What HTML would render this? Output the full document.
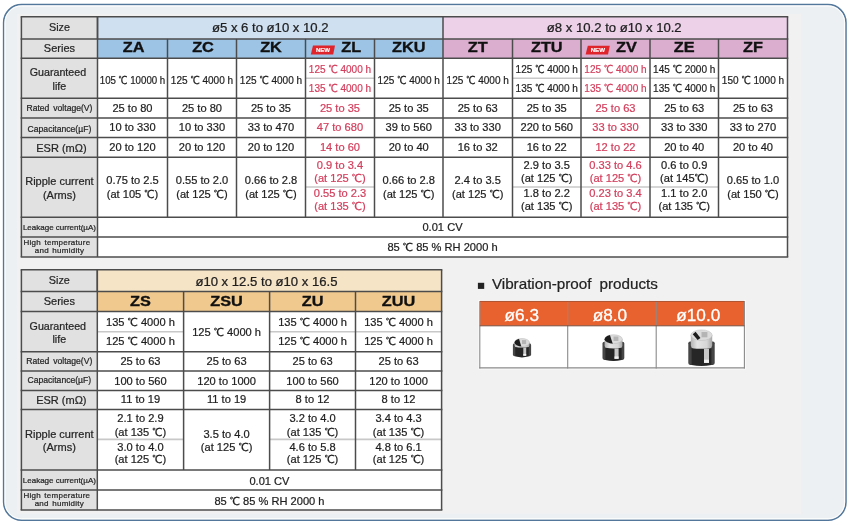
<!DOCTYPE html>
<html><head><meta charset="utf-8"><title>Capacitor series table</title>
<style>
html,body{margin:0;padding:0;background:#fff;width:850px;height:525px;overflow:hidden}
svg{display:block}
text{font-family:"Liberation Sans", "WenQuanYi Zen Hei", sans-serif}
</style></head><body>
<svg width="850" height="525" viewBox="0 0 850 525">
<rect x="0" y="0" width="850" height="525" fill="#ffffff"/>
<rect x="3.6" y="4.6" width="842.4" height="515.6" rx="18" ry="18" fill="#edf0f2" stroke="#52779b" stroke-width="1.5"/>
<rect x="5" y="6" width="839.6" height="512.8" rx="16.6" ry="16.6" fill="none" stroke="#ffffff" stroke-width="1"/>
<rect x="17.00" y="14.00" width="784.00" height="499.50" fill="#f1f1f1"/>
<rect x="21.40" y="16.80" width="766.10" height="240.10" fill="#ffffff"/>
<rect x="21.40" y="16.80" width="76.10" height="240.10" fill="#e1e1e1"/>
<rect x="97.50" y="16.80" width="345.50" height="22.10" fill="#cfe0f1"/>
<rect x="443.00" y="16.80" width="344.50" height="22.10" fill="#ecd1e9"/>
<rect x="97.50" y="38.90" width="70.00" height="19.40" fill="#9dc3e5"/>
<rect x="167.50" y="38.90" width="69.00" height="19.40" fill="#9dc3e5"/>
<rect x="236.50" y="38.90" width="69.00" height="19.40" fill="#9dc3e5"/>
<rect x="305.50" y="38.90" width="69.00" height="19.40" fill="#9dc3e5"/>
<rect x="374.50" y="38.90" width="68.50" height="19.40" fill="#9dc3e5"/>
<rect x="443.00" y="38.90" width="69.50" height="19.40" fill="#dbaed0"/>
<rect x="512.50" y="38.90" width="68.50" height="19.40" fill="#dbaed0"/>
<rect x="581.00" y="38.90" width="69.00" height="19.40" fill="#dbaed0"/>
<rect x="650.00" y="38.90" width="68.50" height="19.40" fill="#dbaed0"/>
<rect x="718.50" y="38.90" width="69.00" height="19.40" fill="#dbaed0"/>
<line x1="305.50" y1="78.30" x2="374.50" y2="78.30" stroke="#c8c8c8" stroke-width="1.6"/>
<line x1="512.50" y1="78.30" x2="718.50" y2="78.30" stroke="#c8c8c8" stroke-width="1.6"/>
<line x1="305.50" y1="187.00" x2="374.50" y2="187.00" stroke="#c8c8c8" stroke-width="1.6"/>
<line x1="512.50" y1="187.00" x2="718.50" y2="187.00" stroke="#c8c8c8" stroke-width="1.6"/>
<line x1="20.65" y1="16.80" x2="788.25" y2="16.80" stroke="#4c4c4c" stroke-width="1.5"/>
<line x1="20.65" y1="38.90" x2="788.25" y2="38.90" stroke="#4c4c4c" stroke-width="1.5"/>
<line x1="20.65" y1="58.30" x2="788.25" y2="58.30" stroke="#4c4c4c" stroke-width="1.5"/>
<line x1="20.65" y1="98.30" x2="788.25" y2="98.30" stroke="#4c4c4c" stroke-width="1.5"/>
<line x1="20.65" y1="118.10" x2="788.25" y2="118.10" stroke="#4c4c4c" stroke-width="1.5"/>
<line x1="20.65" y1="137.40" x2="788.25" y2="137.40" stroke="#4c4c4c" stroke-width="1.5"/>
<line x1="20.65" y1="157.20" x2="788.25" y2="157.20" stroke="#4c4c4c" stroke-width="1.5"/>
<line x1="20.65" y1="217.20" x2="788.25" y2="217.20" stroke="#4c4c4c" stroke-width="1.5"/>
<line x1="20.65" y1="236.90" x2="788.25" y2="236.90" stroke="#4c4c4c" stroke-width="1.5"/>
<line x1="20.65" y1="256.90" x2="788.25" y2="256.90" stroke="#4c4c4c" stroke-width="1.5"/>
<line x1="21.40" y1="16.80" x2="21.40" y2="256.90" stroke="#4c4c4c" stroke-width="1.5"/>
<line x1="787.50" y1="16.80" x2="787.50" y2="256.90" stroke="#4c4c4c" stroke-width="1.5"/>
<line x1="97.50" y1="16.80" x2="97.50" y2="256.90" stroke="#4c4c4c" stroke-width="1.5"/>
<line x1="97.50" y1="16.80" x2="97.50" y2="38.90" stroke="#4c4c4c" stroke-width="1.5"/>
<line x1="443.00" y1="16.80" x2="443.00" y2="38.90" stroke="#4c4c4c" stroke-width="1.5"/>
<line x1="167.50" y1="38.90" x2="167.50" y2="217.20" stroke="#4c4c4c" stroke-width="1.5"/>
<line x1="236.50" y1="38.90" x2="236.50" y2="217.20" stroke="#4c4c4c" stroke-width="1.5"/>
<line x1="305.50" y1="38.90" x2="305.50" y2="217.20" stroke="#4c4c4c" stroke-width="1.5"/>
<line x1="374.50" y1="38.90" x2="374.50" y2="217.20" stroke="#4c4c4c" stroke-width="1.5"/>
<line x1="443.00" y1="38.90" x2="443.00" y2="217.20" stroke="#4c4c4c" stroke-width="1.5"/>
<line x1="512.50" y1="38.90" x2="512.50" y2="217.20" stroke="#4c4c4c" stroke-width="1.5"/>
<line x1="581.00" y1="38.90" x2="581.00" y2="217.20" stroke="#4c4c4c" stroke-width="1.5"/>
<line x1="650.00" y1="38.90" x2="650.00" y2="217.20" stroke="#4c4c4c" stroke-width="1.5"/>
<line x1="718.50" y1="38.90" x2="718.50" y2="217.20" stroke="#4c4c4c" stroke-width="1.5"/>
<rect x="21.40" y="269.80" width="420.20" height="240.30" fill="#ffffff"/>
<rect x="21.40" y="269.80" width="75.90" height="240.30" fill="#e1e1e1"/>
<rect x="97.30" y="269.80" width="344.30" height="21.80" fill="#f6e4c6"/>
<rect x="97.30" y="291.60" width="86.30" height="19.90" fill="#f0c98f"/>
<rect x="183.60" y="291.60" width="86.00" height="19.90" fill="#f0c98f"/>
<rect x="269.60" y="291.60" width="85.90" height="19.90" fill="#f0c98f"/>
<rect x="355.50" y="291.60" width="86.10" height="19.90" fill="#f0c98f"/>
<line x1="97.30" y1="331.80" x2="183.60" y2="331.80" stroke="#c8c8c8" stroke-width="1.6"/>
<line x1="269.60" y1="331.80" x2="441.60" y2="331.80" stroke="#c8c8c8" stroke-width="1.6"/>
<line x1="97.30" y1="439.40" x2="183.60" y2="439.40" stroke="#c8c8c8" stroke-width="1.6"/>
<line x1="269.60" y1="439.40" x2="441.60" y2="439.40" stroke="#c8c8c8" stroke-width="1.6"/>
<line x1="20.65" y1="269.80" x2="442.35" y2="269.80" stroke="#4c4c4c" stroke-width="1.5"/>
<line x1="20.65" y1="291.60" x2="442.35" y2="291.60" stroke="#4c4c4c" stroke-width="1.5"/>
<line x1="20.65" y1="311.50" x2="442.35" y2="311.50" stroke="#4c4c4c" stroke-width="1.5"/>
<line x1="20.65" y1="351.70" x2="442.35" y2="351.70" stroke="#4c4c4c" stroke-width="1.5"/>
<line x1="20.65" y1="371.00" x2="442.35" y2="371.00" stroke="#4c4c4c" stroke-width="1.5"/>
<line x1="20.65" y1="390.40" x2="442.35" y2="390.40" stroke="#4c4c4c" stroke-width="1.5"/>
<line x1="20.65" y1="409.60" x2="442.35" y2="409.60" stroke="#4c4c4c" stroke-width="1.5"/>
<line x1="20.65" y1="470.00" x2="442.35" y2="470.00" stroke="#4c4c4c" stroke-width="1.5"/>
<line x1="20.65" y1="490.00" x2="442.35" y2="490.00" stroke="#4c4c4c" stroke-width="1.5"/>
<line x1="20.65" y1="510.10" x2="442.35" y2="510.10" stroke="#4c4c4c" stroke-width="1.5"/>
<line x1="21.40" y1="269.80" x2="21.40" y2="510.10" stroke="#4c4c4c" stroke-width="1.5"/>
<line x1="441.60" y1="269.80" x2="441.60" y2="510.10" stroke="#4c4c4c" stroke-width="1.5"/>
<line x1="97.30" y1="269.80" x2="97.30" y2="510.10" stroke="#4c4c4c" stroke-width="1.5"/>
<line x1="97.30" y1="269.80" x2="97.30" y2="291.60" stroke="#4c4c4c" stroke-width="1.5"/>
<line x1="183.60" y1="291.60" x2="183.60" y2="470.00" stroke="#4c4c4c" stroke-width="1.5"/>
<line x1="269.60" y1="291.60" x2="269.60" y2="470.00" stroke="#4c4c4c" stroke-width="1.5"/>
<line x1="355.50" y1="291.60" x2="355.50" y2="470.00" stroke="#4c4c4c" stroke-width="1.5"/>
<text transform="translate(132.50 83.90) scale(0.875 1)" font-size="11.1" fill="#1e1e1e" text-anchor="middle" stroke="#1e1e1e" stroke-width="0.22">105 ℃ 10000 h</text>
<text transform="translate(202.00 83.90) scale(0.905 1)" font-size="11.1" fill="#1e1e1e" text-anchor="middle" stroke="#1e1e1e" stroke-width="0.22">125 ℃ 4000 h</text>
<text transform="translate(271.00 83.90) scale(0.905 1)" font-size="11.1" fill="#1e1e1e" text-anchor="middle" stroke="#1e1e1e" stroke-width="0.22">125 ℃ 4000 h</text>
<text transform="translate(340.00 72.50) scale(0.905 1)" font-size="11.1" fill="#d3405e" text-anchor="middle" stroke="#d3405e" stroke-width="0.22">125 ℃ 4000 h</text>
<text transform="translate(340.00 92.00) scale(0.905 1)" font-size="11.1" fill="#d3405e" text-anchor="middle" stroke="#d3405e" stroke-width="0.22">135 ℃ 4000 h</text>
<text transform="translate(408.75 83.90) scale(0.905 1)" font-size="11.1" fill="#1e1e1e" text-anchor="middle" stroke="#1e1e1e" stroke-width="0.22">125 ℃ 4000 h</text>
<text transform="translate(477.75 83.90) scale(0.905 1)" font-size="11.1" fill="#1e1e1e" text-anchor="middle" stroke="#1e1e1e" stroke-width="0.22">125 ℃ 4000 h</text>
<text transform="translate(546.75 72.50) scale(0.905 1)" font-size="11.1" fill="#1e1e1e" text-anchor="middle" stroke="#1e1e1e" stroke-width="0.22">125 ℃ 4000 h</text>
<text transform="translate(546.75 92.00) scale(0.905 1)" font-size="11.1" fill="#1e1e1e" text-anchor="middle" stroke="#1e1e1e" stroke-width="0.22">135 ℃ 4000 h</text>
<text transform="translate(615.50 72.50) scale(0.905 1)" font-size="11.1" fill="#d3405e" text-anchor="middle" stroke="#d3405e" stroke-width="0.22">125 ℃ 4000 h</text>
<text transform="translate(615.50 92.00) scale(0.905 1)" font-size="11.1" fill="#d3405e" text-anchor="middle" stroke="#d3405e" stroke-width="0.22">135 ℃ 4000 h</text>
<text transform="translate(684.25 72.50) scale(0.905 1)" font-size="11.1" fill="#1e1e1e" text-anchor="middle" stroke="#1e1e1e" stroke-width="0.22">145 ℃ 2000 h</text>
<text transform="translate(684.25 92.00) scale(0.905 1)" font-size="11.1" fill="#1e1e1e" text-anchor="middle" stroke="#1e1e1e" stroke-width="0.22">135 ℃ 4000 h</text>
<text transform="translate(753.00 83.90) scale(0.905 1)" font-size="11.1" fill="#1e1e1e" text-anchor="middle" stroke="#1e1e1e" stroke-width="0.22">150 ℃ 1000 h</text>
<text x="132.50" y="111.70" font-size="11.1" fill="#1e1e1e" text-anchor="middle" stroke="#1e1e1e" stroke-width="0.22">25 to 80</text>
<text x="202.00" y="111.70" font-size="11.1" fill="#1e1e1e" text-anchor="middle" stroke="#1e1e1e" stroke-width="0.22">25 to 80</text>
<text x="271.00" y="111.70" font-size="11.1" fill="#1e1e1e" text-anchor="middle" stroke="#1e1e1e" stroke-width="0.22">25 to 35</text>
<text x="340.00" y="111.70" font-size="11.1" fill="#d3405e" text-anchor="middle" stroke="#d3405e" stroke-width="0.22">25 to 35</text>
<text x="408.75" y="111.70" font-size="11.1" fill="#1e1e1e" text-anchor="middle" stroke="#1e1e1e" stroke-width="0.22">25 to 35</text>
<text x="477.75" y="111.70" font-size="11.1" fill="#1e1e1e" text-anchor="middle" stroke="#1e1e1e" stroke-width="0.22">25 to 63</text>
<text x="546.75" y="111.70" font-size="11.1" fill="#1e1e1e" text-anchor="middle" stroke="#1e1e1e" stroke-width="0.22">25 to 35</text>
<text x="615.50" y="111.70" font-size="11.1" fill="#d3405e" text-anchor="middle" stroke="#d3405e" stroke-width="0.22">25 to 63</text>
<text x="684.25" y="111.70" font-size="11.1" fill="#1e1e1e" text-anchor="middle" stroke="#1e1e1e" stroke-width="0.22">25 to 63</text>
<text x="753.00" y="111.70" font-size="11.1" fill="#1e1e1e" text-anchor="middle" stroke="#1e1e1e" stroke-width="0.22">25 to 63</text>
<text x="132.50" y="131.30" font-size="11.1" fill="#1e1e1e" text-anchor="middle" stroke="#1e1e1e" stroke-width="0.22">10 to 330</text>
<text x="202.00" y="131.30" font-size="11.1" fill="#1e1e1e" text-anchor="middle" stroke="#1e1e1e" stroke-width="0.22">10 to 330</text>
<text x="271.00" y="131.30" font-size="11.1" fill="#1e1e1e" text-anchor="middle" stroke="#1e1e1e" stroke-width="0.22">33 to 470</text>
<text x="340.00" y="131.30" font-size="11.1" fill="#d3405e" text-anchor="middle" stroke="#d3405e" stroke-width="0.22">47 to 680</text>
<text x="408.75" y="131.30" font-size="11.1" fill="#1e1e1e" text-anchor="middle" stroke="#1e1e1e" stroke-width="0.22">39 to 560</text>
<text x="477.75" y="131.30" font-size="11.1" fill="#1e1e1e" text-anchor="middle" stroke="#1e1e1e" stroke-width="0.22">33 to 330</text>
<text x="546.75" y="131.30" font-size="11.1" fill="#1e1e1e" text-anchor="middle" stroke="#1e1e1e" stroke-width="0.22">220 to 560</text>
<text x="615.50" y="131.30" font-size="11.1" fill="#d3405e" text-anchor="middle" stroke="#d3405e" stroke-width="0.22">33 to 330</text>
<text x="684.25" y="131.30" font-size="11.1" fill="#1e1e1e" text-anchor="middle" stroke="#1e1e1e" stroke-width="0.22">33 to 330</text>
<text x="753.00" y="131.30" font-size="11.1" fill="#1e1e1e" text-anchor="middle" stroke="#1e1e1e" stroke-width="0.22">33 to 270</text>
<text x="132.50" y="150.60" font-size="11.1" fill="#1e1e1e" text-anchor="middle" stroke="#1e1e1e" stroke-width="0.22">20 to 120</text>
<text x="202.00" y="150.60" font-size="11.1" fill="#1e1e1e" text-anchor="middle" stroke="#1e1e1e" stroke-width="0.22">20 to 120</text>
<text x="271.00" y="150.60" font-size="11.1" fill="#1e1e1e" text-anchor="middle" stroke="#1e1e1e" stroke-width="0.22">20 to 120</text>
<text x="340.00" y="150.60" font-size="11.1" fill="#d3405e" text-anchor="middle" stroke="#d3405e" stroke-width="0.22">14 to 60</text>
<text x="408.75" y="150.60" font-size="11.1" fill="#1e1e1e" text-anchor="middle" stroke="#1e1e1e" stroke-width="0.22">20 to 40</text>
<text x="477.75" y="150.60" font-size="11.1" fill="#1e1e1e" text-anchor="middle" stroke="#1e1e1e" stroke-width="0.22">16 to 32</text>
<text x="546.75" y="150.60" font-size="11.1" fill="#1e1e1e" text-anchor="middle" stroke="#1e1e1e" stroke-width="0.22">16 to 22</text>
<text x="615.50" y="150.60" font-size="11.1" fill="#d3405e" text-anchor="middle" stroke="#d3405e" stroke-width="0.22">12 to 22</text>
<text x="684.25" y="150.60" font-size="11.1" fill="#1e1e1e" text-anchor="middle" stroke="#1e1e1e" stroke-width="0.22">20 to 40</text>
<text x="753.00" y="150.60" font-size="11.1" fill="#1e1e1e" text-anchor="middle" stroke="#1e1e1e" stroke-width="0.22">20 to 40</text>
<text x="132.50" y="184.10" font-size="11.1" fill="#1e1e1e" text-anchor="middle" stroke="#1e1e1e" stroke-width="0.22">0.75 to 2.5</text>
<text x="132.50" y="198.00" font-size="11.1" fill="#1e1e1e" text-anchor="middle" stroke="#1e1e1e" stroke-width="0.22">(at 105 ℃)</text>
<text x="202.00" y="184.10" font-size="11.1" fill="#1e1e1e" text-anchor="middle" stroke="#1e1e1e" stroke-width="0.22">0.55 to 2.0</text>
<text x="202.00" y="198.00" font-size="11.1" fill="#1e1e1e" text-anchor="middle" stroke="#1e1e1e" stroke-width="0.22">(at 125 ℃)</text>
<text x="271.00" y="184.10" font-size="11.1" fill="#1e1e1e" text-anchor="middle" stroke="#1e1e1e" stroke-width="0.22">0.66 to 2.8</text>
<text x="271.00" y="198.00" font-size="11.1" fill="#1e1e1e" text-anchor="middle" stroke="#1e1e1e" stroke-width="0.22">(at 125 ℃)</text>
<text x="340.00" y="169.10" font-size="11.1" fill="#d3405e" text-anchor="middle" stroke="#d3405e" stroke-width="0.22">0.9 to 3.4</text>
<text x="340.00" y="181.80" font-size="11.1" fill="#d3405e" text-anchor="middle" stroke="#d3405e" stroke-width="0.22">(at 125 ℃)</text>
<text x="340.00" y="197.30" font-size="11.1" fill="#d3405e" text-anchor="middle" stroke="#d3405e" stroke-width="0.22">0.55 to 2.3</text>
<text x="340.00" y="210.00" font-size="11.1" fill="#d3405e" text-anchor="middle" stroke="#d3405e" stroke-width="0.22">(at 135 ℃)</text>
<text x="408.75" y="184.10" font-size="11.1" fill="#1e1e1e" text-anchor="middle" stroke="#1e1e1e" stroke-width="0.22">0.66 to 2.8</text>
<text x="408.75" y="198.00" font-size="11.1" fill="#1e1e1e" text-anchor="middle" stroke="#1e1e1e" stroke-width="0.22">(at 125 ℃)</text>
<text x="477.75" y="184.10" font-size="11.1" fill="#1e1e1e" text-anchor="middle" stroke="#1e1e1e" stroke-width="0.22">2.4 to 3.5</text>
<text x="477.75" y="198.00" font-size="11.1" fill="#1e1e1e" text-anchor="middle" stroke="#1e1e1e" stroke-width="0.22">(at 125 ℃)</text>
<text x="546.75" y="169.10" font-size="11.1" fill="#1e1e1e" text-anchor="middle" stroke="#1e1e1e" stroke-width="0.22">2.9 to 3.5</text>
<text x="546.75" y="181.80" font-size="11.1" fill="#1e1e1e" text-anchor="middle" stroke="#1e1e1e" stroke-width="0.22">(at 125 ℃)</text>
<text x="546.75" y="197.30" font-size="11.1" fill="#1e1e1e" text-anchor="middle" stroke="#1e1e1e" stroke-width="0.22">1.8 to 2.2</text>
<text x="546.75" y="210.00" font-size="11.1" fill="#1e1e1e" text-anchor="middle" stroke="#1e1e1e" stroke-width="0.22">(at 135 ℃)</text>
<text x="615.50" y="169.10" font-size="11.1" fill="#d3405e" text-anchor="middle" stroke="#d3405e" stroke-width="0.22">0.33 to 4.6</text>
<text x="615.50" y="181.80" font-size="11.1" fill="#d3405e" text-anchor="middle" stroke="#d3405e" stroke-width="0.22">(at 125 ℃)</text>
<text x="615.50" y="197.30" font-size="11.1" fill="#d3405e" text-anchor="middle" stroke="#d3405e" stroke-width="0.22">0.23 to 3.4</text>
<text x="615.50" y="210.00" font-size="11.1" fill="#d3405e" text-anchor="middle" stroke="#d3405e" stroke-width="0.22">(at 135 ℃)</text>
<text x="684.25" y="169.10" font-size="11.1" fill="#1e1e1e" text-anchor="middle" stroke="#1e1e1e" stroke-width="0.22">0.6 to 0.9</text>
<text x="684.25" y="181.80" font-size="11.1" fill="#1e1e1e" text-anchor="middle" stroke="#1e1e1e" stroke-width="0.22">(at 145℃)</text>
<text x="684.25" y="197.30" font-size="11.1" fill="#1e1e1e" text-anchor="middle" stroke="#1e1e1e" stroke-width="0.22">1.1 to 2.0</text>
<text x="684.25" y="210.00" font-size="11.1" fill="#1e1e1e" text-anchor="middle" stroke="#1e1e1e" stroke-width="0.22">(at 135 ℃)</text>
<text x="753.00" y="184.10" font-size="11.1" fill="#1e1e1e" text-anchor="middle" stroke="#1e1e1e" stroke-width="0.22">0.65 to 1.0</text>
<text x="753.00" y="198.00" font-size="11.1" fill="#1e1e1e" text-anchor="middle" stroke="#1e1e1e" stroke-width="0.22">(at 150 ℃)</text>
<text x="442.50" y="230.70" font-size="11.1" fill="#1e1e1e" text-anchor="middle" stroke="#1e1e1e" stroke-width="0.22">0.01 CV</text>
<text x="442.50" y="250.90" font-size="11.1" fill="#1e1e1e" text-anchor="middle" stroke="#1e1e1e" stroke-width="0.22">85 ℃ 85 % RH 2000 h</text>
<text x="140.45" y="325.70" font-size="11.1" fill="#1e1e1e" text-anchor="middle" stroke="#1e1e1e" stroke-width="0.22">135 ℃ 4000 h</text>
<text x="140.45" y="345.20" font-size="11.1" fill="#1e1e1e" text-anchor="middle" stroke="#1e1e1e" stroke-width="0.22">125 ℃ 4000 h</text>
<text x="226.60" y="335.80" font-size="11.1" fill="#1e1e1e" text-anchor="middle" stroke="#1e1e1e" stroke-width="0.22">125 ℃ 4000 h</text>
<text x="312.55" y="325.70" font-size="11.1" fill="#1e1e1e" text-anchor="middle" stroke="#1e1e1e" stroke-width="0.22">135 ℃ 4000 h</text>
<text x="312.55" y="345.20" font-size="11.1" fill="#1e1e1e" text-anchor="middle" stroke="#1e1e1e" stroke-width="0.22">125 ℃ 4000 h</text>
<text x="398.55" y="325.70" font-size="11.1" fill="#1e1e1e" text-anchor="middle" stroke="#1e1e1e" stroke-width="0.22">135 ℃ 4000 h</text>
<text x="398.55" y="345.20" font-size="11.1" fill="#1e1e1e" text-anchor="middle" stroke="#1e1e1e" stroke-width="0.22">125 ℃ 4000 h</text>
<text x="140.45" y="365.00" font-size="11.1" fill="#1e1e1e" text-anchor="middle" stroke="#1e1e1e" stroke-width="0.22">25 to 63</text>
<text x="226.60" y="365.00" font-size="11.1" fill="#1e1e1e" text-anchor="middle" stroke="#1e1e1e" stroke-width="0.22">25 to 63</text>
<text x="312.55" y="365.00" font-size="11.1" fill="#1e1e1e" text-anchor="middle" stroke="#1e1e1e" stroke-width="0.22">25 to 63</text>
<text x="398.55" y="365.00" font-size="11.1" fill="#1e1e1e" text-anchor="middle" stroke="#1e1e1e" stroke-width="0.22">25 to 63</text>
<text x="140.45" y="384.50" font-size="11.1" fill="#1e1e1e" text-anchor="middle" stroke="#1e1e1e" stroke-width="0.22">100 to 560</text>
<text x="226.60" y="384.50" font-size="11.1" fill="#1e1e1e" text-anchor="middle" stroke="#1e1e1e" stroke-width="0.22">120 to 1000</text>
<text x="312.55" y="384.50" font-size="11.1" fill="#1e1e1e" text-anchor="middle" stroke="#1e1e1e" stroke-width="0.22">100 to 560</text>
<text x="398.55" y="384.50" font-size="11.1" fill="#1e1e1e" text-anchor="middle" stroke="#1e1e1e" stroke-width="0.22">120 to 1000</text>
<text x="140.45" y="403.00" font-size="11.1" fill="#1e1e1e" text-anchor="middle" stroke="#1e1e1e" stroke-width="0.22">11 to 19</text>
<text x="226.60" y="403.00" font-size="11.1" fill="#1e1e1e" text-anchor="middle" stroke="#1e1e1e" stroke-width="0.22">11 to 19</text>
<text x="312.55" y="403.00" font-size="11.1" fill="#1e1e1e" text-anchor="middle" stroke="#1e1e1e" stroke-width="0.22">8 to 12</text>
<text x="398.55" y="403.00" font-size="11.1" fill="#1e1e1e" text-anchor="middle" stroke="#1e1e1e" stroke-width="0.22">8 to 12</text>
<text x="140.45" y="422.00" font-size="11.1" fill="#1e1e1e" text-anchor="middle" stroke="#1e1e1e" stroke-width="0.22">2.1 to 2.9</text>
<text x="140.45" y="435.70" font-size="11.1" fill="#1e1e1e" text-anchor="middle" stroke="#1e1e1e" stroke-width="0.22">(at 135 ℃)</text>
<text x="140.45" y="450.60" font-size="11.1" fill="#1e1e1e" text-anchor="middle" stroke="#1e1e1e" stroke-width="0.22">3.0 to 4.0</text>
<text x="140.45" y="463.30" font-size="11.1" fill="#1e1e1e" text-anchor="middle" stroke="#1e1e1e" stroke-width="0.22">(at 125 ℃)</text>
<text x="226.60" y="437.80" font-size="11.1" fill="#1e1e1e" text-anchor="middle" stroke="#1e1e1e" stroke-width="0.22">3.5 to 4.0</text>
<text x="226.60" y="451.20" font-size="11.1" fill="#1e1e1e" text-anchor="middle" stroke="#1e1e1e" stroke-width="0.22">(at 125 ℃)</text>
<text x="312.55" y="422.00" font-size="11.1" fill="#1e1e1e" text-anchor="middle" stroke="#1e1e1e" stroke-width="0.22">3.2 to 4.0</text>
<text x="312.55" y="435.70" font-size="11.1" fill="#1e1e1e" text-anchor="middle" stroke="#1e1e1e" stroke-width="0.22">(at 135 ℃)</text>
<text x="312.55" y="450.60" font-size="11.1" fill="#1e1e1e" text-anchor="middle" stroke="#1e1e1e" stroke-width="0.22">4.6 to 5.8</text>
<text x="312.55" y="463.30" font-size="11.1" fill="#1e1e1e" text-anchor="middle" stroke="#1e1e1e" stroke-width="0.22">(at 125 ℃)</text>
<text x="398.55" y="422.00" font-size="11.1" fill="#1e1e1e" text-anchor="middle" stroke="#1e1e1e" stroke-width="0.22">3.4 to 4.3</text>
<text x="398.55" y="435.70" font-size="11.1" fill="#1e1e1e" text-anchor="middle" stroke="#1e1e1e" stroke-width="0.22">(at 135 ℃)</text>
<text x="398.55" y="450.60" font-size="11.1" fill="#1e1e1e" text-anchor="middle" stroke="#1e1e1e" stroke-width="0.22">4.8 to 6.1</text>
<text x="398.55" y="463.30" font-size="11.1" fill="#1e1e1e" text-anchor="middle" stroke="#1e1e1e" stroke-width="0.22">(at 125 ℃)</text>
<text x="269.45" y="484.80" font-size="11.1" fill="#1e1e1e" text-anchor="middle" stroke="#1e1e1e" stroke-width="0.22">0.01 CV</text>
<text x="269.45" y="504.60" font-size="11.1" fill="#1e1e1e" text-anchor="middle" stroke="#1e1e1e" stroke-width="0.22">85 ℃ 85 % RH 2000 h</text>
<text transform="translate(59.45 31.00) scale(0.950 1)" font-size="11.4" fill="#262626" text-anchor="middle" stroke="#262626" stroke-width="0.22">Size</text>
<text x="59.45" y="52.00" font-size="11.0" fill="#262626" text-anchor="middle" stroke="#262626" stroke-width="0.22">Series</text>
<text x="57.95" y="76.20" font-size="10.7" fill="#262626" text-anchor="middle" stroke="#262626" stroke-width="0.22">Guaranteed</text>
<text x="59.45" y="89.80" font-size="10.7" fill="#262626" text-anchor="middle" stroke="#262626" stroke-width="0.22">life</text>
<text x="59.45" y="111.30" font-size="8.6" fill="#262626" text-anchor="middle" word-spacing="1.5" stroke="#262626" stroke-width="0.22">Rated voltage(V)</text>
<text x="59.45" y="131.60" font-size="8.6" fill="#262626" text-anchor="middle" stroke="#262626" stroke-width="0.22">Capacitance(µF)</text>
<text x="61.45" y="151.70" font-size="11.0" fill="#262626" text-anchor="middle" stroke="#262626" stroke-width="0.22">ESR (mΩ)</text>
<text x="59.45" y="185.10" font-size="11.0" fill="#262626" text-anchor="middle" stroke="#262626" stroke-width="0.22">Ripple current</text>
<text x="59.45" y="198.50" font-size="11.0" fill="#262626" text-anchor="middle" stroke="#262626" stroke-width="0.22">(Arms)</text>
<text x="59.45" y="230.10" font-size="8.0" fill="#262626" text-anchor="middle" stroke="#262626" stroke-width="0.22">Leakage current(µA)</text>
<text x="56.95" y="245.30" font-size="8.0" fill="#262626" text-anchor="middle" letter-spacing="0.25" word-spacing="1" stroke="#262626" stroke-width="0.22">High temperature</text>
<text x="59.45" y="253.40" font-size="8.0" fill="#262626" text-anchor="middle" letter-spacing="0.25" word-spacing="1" stroke="#262626" stroke-width="0.22">and humidity</text>
<text transform="translate(59.35 284.40) scale(0.950 1)" font-size="11.4" fill="#262626" text-anchor="middle" stroke="#262626" stroke-width="0.22">Size</text>
<text x="59.35" y="305.40" font-size="11.0" fill="#262626" text-anchor="middle" stroke="#262626" stroke-width="0.22">Series</text>
<text x="57.85" y="329.50" font-size="10.7" fill="#262626" text-anchor="middle" stroke="#262626" stroke-width="0.22">Guaranteed</text>
<text x="59.35" y="342.70" font-size="10.7" fill="#262626" text-anchor="middle" stroke="#262626" stroke-width="0.22">life</text>
<text x="59.35" y="364.30" font-size="8.6" fill="#262626" text-anchor="middle" word-spacing="1.5" stroke="#262626" stroke-width="0.22">Rated voltage(V)</text>
<text x="59.35" y="383.40" font-size="8.6" fill="#262626" text-anchor="middle" stroke="#262626" stroke-width="0.22">Capacitance(µF)</text>
<text x="61.35" y="404.40" font-size="11.0" fill="#262626" text-anchor="middle" stroke="#262626" stroke-width="0.22">ESR (mΩ)</text>
<text x="59.35" y="438.40" font-size="11.0" fill="#262626" text-anchor="middle" stroke="#262626" stroke-width="0.22">Ripple current</text>
<text x="59.35" y="451.00" font-size="11.0" fill="#262626" text-anchor="middle" stroke="#262626" stroke-width="0.22">(Arms)</text>
<text x="59.35" y="483.40" font-size="8.0" fill="#262626" text-anchor="middle" stroke="#262626" stroke-width="0.22">Leakage current(µA)</text>
<text x="56.85" y="497.90" font-size="8.0" fill="#262626" text-anchor="middle" letter-spacing="0.25" word-spacing="1" stroke="#262626" stroke-width="0.22">High temperature</text>
<text x="59.35" y="506.30" font-size="8.0" fill="#262626" text-anchor="middle" letter-spacing="0.25" word-spacing="1" stroke="#262626" stroke-width="0.22">and humidity</text>
<text transform="translate(270.25 31.70) scale(1.025 1)" font-size="12.8" fill="#1e1e1e" text-anchor="middle" stroke="#1e1e1e" stroke-width="0.25">ø5 x 6 to ø10 x 10.2</text>
<text transform="translate(614.25 31.70) scale(1.025 1)" font-size="12.8" fill="#1e1e1e" text-anchor="middle" stroke="#1e1e1e" stroke-width="0.25">ø8 x 10.2 to ø10 x 10.2</text>
<text transform="translate(266.45 286.20) scale(1.025 1)" font-size="12.8" fill="#1e1e1e" text-anchor="middle" stroke="#1e1e1e" stroke-width="0.25">ø10 x 12.5 to ø10 x 16.5</text>
<text transform="translate(133.70 52.20) scale(1.050 1)" font-size="15.5" fill="#111" font-weight="bold" text-anchor="middle" stroke="#111" stroke-width="0.35">ZA</text>
<text transform="translate(203.00 52.20) scale(1.050 1)" font-size="15.5" fill="#111" font-weight="bold" text-anchor="middle" stroke="#111" stroke-width="0.35">ZC</text>
<text transform="translate(271.00 52.20) scale(1.050 1)" font-size="15.5" fill="#111" font-weight="bold" text-anchor="middle" stroke="#111" stroke-width="0.35">ZK</text>
<text transform="translate(351.30 52.20) scale(1.050 1)" font-size="15.5" fill="#111" font-weight="bold" text-anchor="middle" stroke="#111" stroke-width="0.35">ZL</text>
<text transform="translate(408.75 52.20) scale(1.050 1)" font-size="15.5" fill="#111" font-weight="bold" text-anchor="middle" stroke="#111" stroke-width="0.35">ZKU</text>
<text transform="translate(477.75 52.20) scale(1.050 1)" font-size="15.5" fill="#111" font-weight="bold" text-anchor="middle" stroke="#111" stroke-width="0.35">ZT</text>
<text transform="translate(546.75 52.20) scale(1.050 1)" font-size="15.5" fill="#111" font-weight="bold" text-anchor="middle" stroke="#111" stroke-width="0.35">ZTU</text>
<text transform="translate(626.50 52.20) scale(1.050 1)" font-size="15.5" fill="#111" font-weight="bold" text-anchor="middle" stroke="#111" stroke-width="0.35">ZV</text>
<text transform="translate(684.25 52.20) scale(1.050 1)" font-size="15.5" fill="#111" font-weight="bold" text-anchor="middle" stroke="#111" stroke-width="0.35">ZE</text>
<text transform="translate(753.00 52.20) scale(1.050 1)" font-size="15.5" fill="#111" font-weight="bold" text-anchor="middle" stroke="#111" stroke-width="0.35">ZF</text>
<text transform="translate(140.45 305.60) scale(1.050 1)" font-size="15.5" fill="#111" font-weight="bold" text-anchor="middle" stroke="#111" stroke-width="0.35">ZS</text>
<text transform="translate(226.60 305.60) scale(1.050 1)" font-size="15.5" fill="#111" font-weight="bold" text-anchor="middle" stroke="#111" stroke-width="0.35">ZSU</text>
<text transform="translate(312.55 305.60) scale(1.050 1)" font-size="15.5" fill="#111" font-weight="bold" text-anchor="middle" stroke="#111" stroke-width="0.35">ZU</text>
<text transform="translate(398.55 305.60) scale(1.050 1)" font-size="15.5" fill="#111" font-weight="bold" text-anchor="middle" stroke="#111" stroke-width="0.35">ZUU</text>
<polygon points="313.0,45.6 335.0,45.6 333.2,54.4 310.8,54.4" fill="#e0242c"/>
<text x="323.0" y="52.2" font-size="6.1" fill="#ffffff" font-weight="bold" text-anchor="middle" stroke="#ffffff" stroke-width="0.15">NEW</text>
<polygon points="587.8,45.7 609.8,45.7 608.0,54.5 585.6,54.5" fill="#e0242c"/>
<text x="597.8" y="52.3" font-size="6.1" fill="#ffffff" font-weight="bold" text-anchor="middle" stroke="#ffffff" stroke-width="0.15">NEW</text>
<rect x="477.90" y="282.80" width="6.30" height="6.10" fill="#222"/>
<text transform="translate(541.65 288.80) scale(1.080 1)" font-size="14.1" fill="#222" text-anchor="middle" stroke="#222" stroke-width="0.22">Vibration-proof</text>
<text transform="translate(628.70 288.80) scale(1.080 1)" font-size="14.1" fill="#222" text-anchor="middle" stroke="#222" stroke-width="0.22">products</text>
<rect x="478.60" y="300.0" width="267.00" height="69.4" fill="#ffffff"/>
<rect x="479.80" y="301.20" width="264.60" height="24.60" fill="#e8622f"/>
<rect x="479.80" y="325.80" width="264.60" height="42.10" fill="#ffffff"/>
<line x1="479.80" y1="301.20" x2="479.80" y2="368.40" stroke="#8a8a8a" stroke-width="1.1"/>
<line x1="567.70" y1="301.20" x2="567.70" y2="368.40" stroke="#8a8a8a" stroke-width="1.1"/>
<line x1="656.20" y1="301.20" x2="656.20" y2="368.40" stroke="#8a8a8a" stroke-width="1.1"/>
<line x1="744.40" y1="301.20" x2="744.40" y2="368.40" stroke="#8a8a8a" stroke-width="1.1"/>
<line x1="479.80" y1="301.40" x2="744.40" y2="301.40" stroke="#a8502f" stroke-width="1"/>
<line x1="479.80" y1="325.80" x2="744.40" y2="325.80" stroke="#7a4a3a" stroke-width="1"/>
<line x1="479.30" y1="367.90" x2="744.90" y2="367.90" stroke="#8a8a8a" stroke-width="1.1"/>
<text x="521.75" y="320.80" font-size="17.2" fill="#ffffff" text-anchor="middle" stroke="#ffffff" stroke-width="0.3">ø6.3</text>
<text x="609.95" y="320.80" font-size="17.2" fill="#ffffff" text-anchor="middle" stroke="#ffffff" stroke-width="0.3">ø8.0</text>
<text x="698.30" y="320.80" font-size="17.2" fill="#ffffff" text-anchor="middle" stroke="#ffffff" stroke-width="0.3">ø10.0</text>
<defs><filter id="cb" x="-20%" y="-20%" width="140%" height="140%"><feGaussianBlur stdDeviation="0.35"/></filter></defs>
<g filter="url(#cb)"><defs><linearGradient id="cg1" x1="0" x2="1" y1="0" y2="0"><stop offset="0" stop-color="#b4b4b4"/><stop offset="0.3" stop-color="#e4e4e4"/><stop offset="0.75" stop-color="#d6d6d6"/><stop offset="1" stop-color="#a6a6a6"/></linearGradient><clipPath id="cc1"><ellipse cx="522.0" cy="342.5" rx="7.5" ry="4.0"/></clipPath></defs><rect x="512.9" y="343.3" width="18.20" height="13.00" rx="1.8" fill="#444444"/><path d="M514.50,342.5 L514.50,345.20 A7.5,4.0 0 0 0 529.50,345.20 L529.50,342.5 Z" fill="url(#cg1)"/><path d="M515.30,347.00 Q522.00,348.20 528.70,347.00 L528.70,356.30 Q522.00,358.60 515.30,356.30 Z" fill="#262626"/><rect x="523.3" y="347.60" width="2.90" height="8.16" fill="#c8c8c8"/><rect x="523.3" y="353.92" width="2.90" height="1.84" fill="#f2f2f2"/><ellipse cx="522.0" cy="342.5" rx="7.5" ry="4.0" fill="#dcdcdc" stroke="#b8b8b8" stroke-width="0.5"/><g clip-path="url(#cc1)"><polygon points="513.50,337.50 518.62,337.50 521.62,347.50 513.50,347.50" fill="#1c1c1c"/><rect x="522.00" y="340.10" width="4.12" height="4.00" fill="#b4b4b4"/></g></g>
<g filter="url(#cb)"><defs><linearGradient id="cg2" x1="0" x2="1" y1="0" y2="0"><stop offset="0" stop-color="#b4b4b4"/><stop offset="0.3" stop-color="#e4e4e4"/><stop offset="0.75" stop-color="#d6d6d6"/><stop offset="1" stop-color="#a6a6a6"/></linearGradient><clipPath id="cc2"><ellipse cx="613.5" cy="339.2" rx="8.9" ry="4.45"/></clipPath></defs><rect x="602.5" y="341.7" width="21.80" height="18.20" rx="1.8" fill="#444444"/><path d="M604.60,339.2 L604.60,345.73 A8.9,4.45 0 0 0 622.40,345.73 L622.40,339.2 Z" fill="url(#cg2)"/><path d="M605.40,347.80 Q613.50,349.00 621.60,347.80 L621.60,359.90 Q613.50,362.20 605.40,359.90 Z" fill="#262626"/><rect x="614.5" y="348.40" width="4.10" height="10.40" fill="#c8c8c8"/><rect x="614.5" y="356.46" width="4.10" height="2.34" fill="#f2f2f2"/><ellipse cx="613.5" cy="339.2" rx="8.9" ry="4.45" fill="#dcdcdc" stroke="#b8b8b8" stroke-width="0.5"/><g clip-path="url(#cc2)"><polygon points="603.60,333.75 609.50,333.75 613.05,344.65 603.60,344.65" fill="#1c1c1c"/><rect x="613.50" y="336.53" width="4.90" height="4.45" fill="#b4b4b4"/></g></g>
<g filter="url(#cb)"><defs><linearGradient id="cg3" x1="0" x2="1" y1="0" y2="0"><stop offset="0" stop-color="#b4b4b4"/><stop offset="0.3" stop-color="#e4e4e4"/><stop offset="0.75" stop-color="#d6d6d6"/><stop offset="1" stop-color="#a6a6a6"/></linearGradient><clipPath id="cc3"><ellipse cx="701.5" cy="335.2" rx="10.7" ry="5.3"/></clipPath></defs><rect x="688.3" y="341.5" width="26.40" height="23.40" rx="1.8" fill="#444444"/><path d="M690.80,335.2 L690.80,345.62 A10.7,5.3 0 0 0 712.20,345.62 L712.20,335.2 Z" fill="url(#cg3)"/><path d="M691.60,348.20 Q701.50,349.40 711.40,348.20 L711.40,364.90 Q701.50,367.20 691.60,364.90 Z" fill="#262626"/><rect x="704.0" y="348.80" width="5.00" height="14.08" fill="#c8c8c8"/><rect x="704.0" y="359.71" width="5.00" height="3.17" fill="#f2f2f2"/><ellipse cx="701.5" cy="335.2" rx="10.7" ry="5.3" fill="#dcdcdc" stroke="#b8b8b8" stroke-width="0.5"/><g clip-path="url(#cc3)"><polygon points="692.73,334.14 695.62,331.75 700.43,338.12 697.65,339.97" fill="#1c1c1c"/><rect x="701.50" y="332.02" width="5.88" height="5.30" fill="#b4b4b4"/></g></g>
</svg>
</body></html>
